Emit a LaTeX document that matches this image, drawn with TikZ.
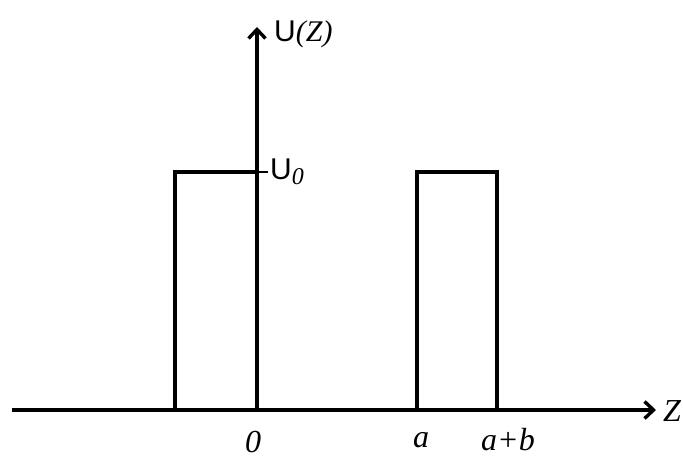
\documentclass[tikz,border=0pt]{standalone}
\usepackage{fontspec}
\setmainfont{Liberation Serif}
\newfontfamily\arialf{Liberation Sans}
\usetikzlibrary{arrows.meta}
\begin{document}
\begin{tikzpicture}[x=1pt,y=-1pt,
  axis/.style={line width=4.2pt,-{Straight Barb[length=9pt,width=17pt,line width=3.4pt]}},
  wall/.style={line width=4.2pt,line join=miter},
  lbl/.style={font=\fontsize{32}{36}\selectfont\itshape,inner sep=0pt}]
\useasboundingbox (0,0) rectangle (683,464);
\coordinate (xl) at (12,410);
\coordinate (xr) at (656,410);
\coordinate (yb) at (257,410);
\coordinate (yt) at (257,27);
\draw[axis] (xl) -- (xr);
\draw[axis] (yb) -- (yt);
\draw[wall] (175,410) -- (175,172) -- (257,172);
\draw[wall] (417,410) -- (417,172) -- (497,172) -- (497,410);
\draw[line width=1.2pt] (257,172) -- (268,172);
\node[lbl,anchor=west] (z) at (663,411) {Z};
\node[inner sep=0pt,anchor=west] (uz) at (274,34) {\fontsize{30}{34}\selectfont\arialf U\rmfamily\itshape(Z)};
\node[inner sep=0pt,anchor=west] (u0) at (270,172) {\fontsize{30}{34}\selectfont\arialf U\rmfamily\itshape\fontsize{24}{28}\selectfont\raisebox{-5pt}{0}};
\node[lbl] (o) at (253,442) {0};
\node[lbl] (a) at (421,440) {a};
\node[lbl] (ab) at (508,440) {a+b};
\end{tikzpicture}
\end{document}
